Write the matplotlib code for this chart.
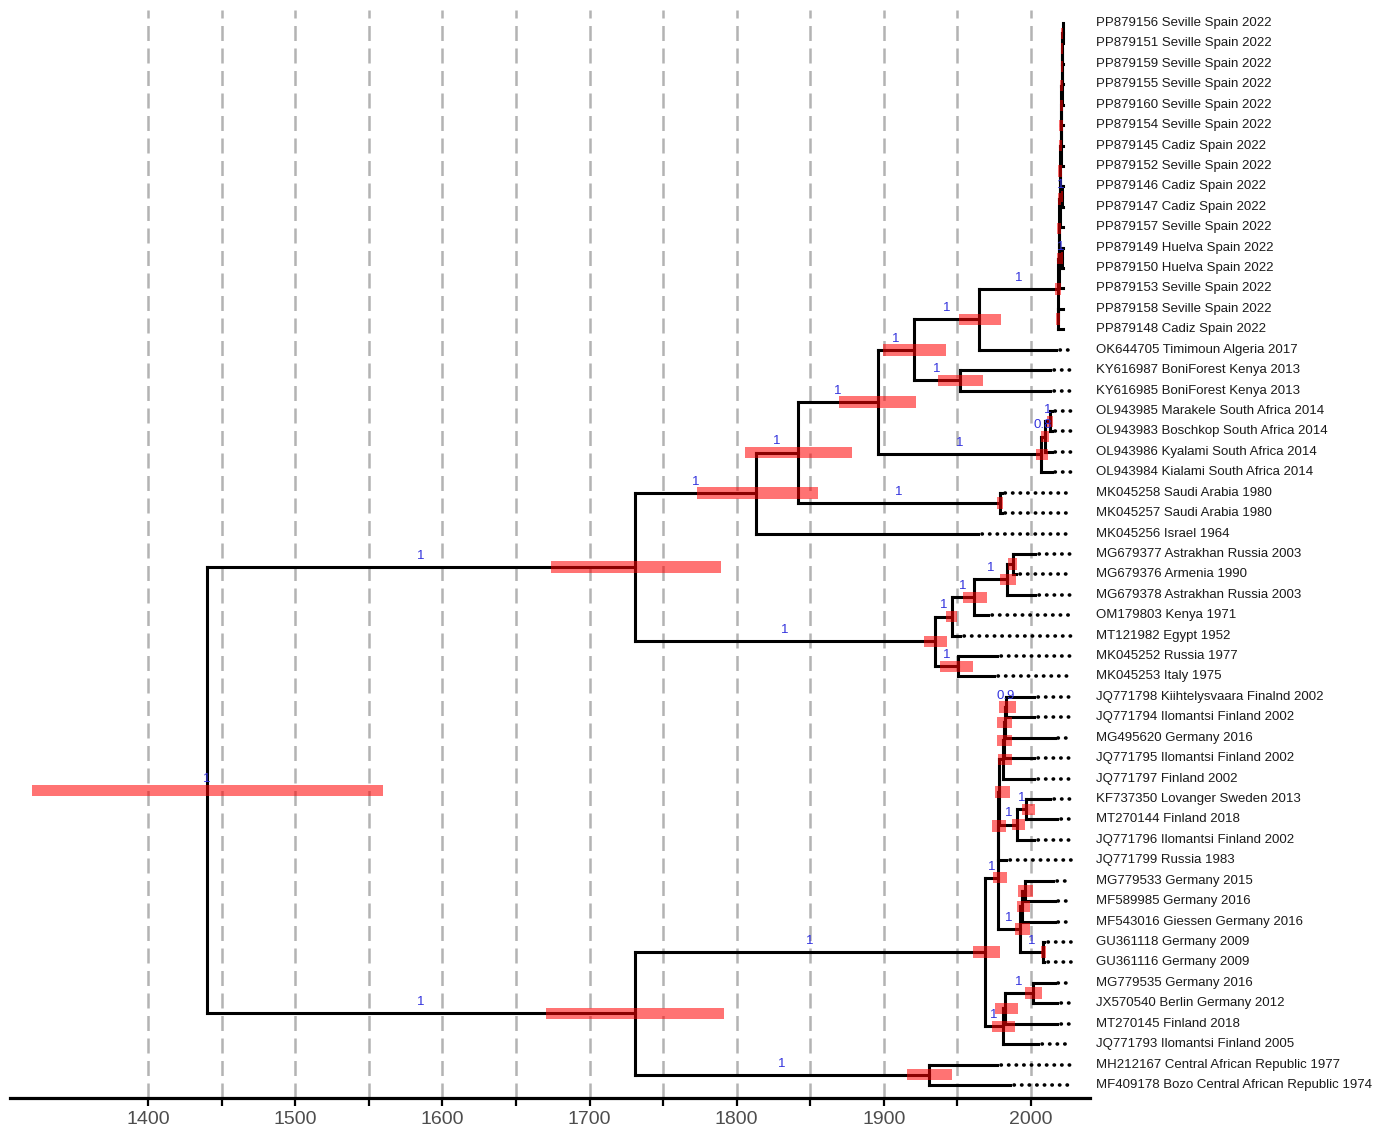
import matplotlib.pyplot as plt
from matplotlib.ticker import FixedLocator

plt.rcParams['font.family'] = ['Liberation Sans', 'DejaVu Sans']

# tips, top to bottom
tip_labels = [
    "PP879156 Seville Spain 2022", "PP879151 Seville Spain 2022",
    "PP879159 Seville Spain 2022", "PP879155 Seville Spain 2022",
    "PP879160 Seville Spain 2022", "PP879154 Seville Spain 2022",
    "PP879145 Cadiz Spain 2022", "PP879152 Seville Spain 2022",
    "PP879146 Cadiz Spain 2022", "PP879147 Cadiz Spain 2022",
    "PP879157 Seville Spain 2022", "PP879149 Huelva Spain 2022",
    "PP879150 Huelva Spain 2022", "PP879153 Seville Spain 2022",
    "PP879158 Seville Spain 2022", "PP879148 Cadiz Spain 2022",
    "OK644705 Timimoun Algeria 2017", "KY616987 BoniForest Kenya 2013",
    "KY616985 BoniForest Kenya 2013", "OL943985 Marakele South Africa 2014",
    "OL943983 Boschkop South Africa 2014", "OL943986 Kyalami South Africa 2014",
    "OL943984 Kialami South Africa 2014", "MK045258 Saudi Arabia 1980",
    "MK045257 Saudi Arabia 1980", "MK045256 Israel 1964",
    "MG679377 Astrakhan Russia 2003", "MG679376 Armenia 1990",
    "MG679378 Astrakhan Russia 2003", "OM179803 Kenya 1971",
    "MT121982 Egypt 1952", "MK045252 Russia 1977", "MK045253 Italy 1975",
    "JQ771798 Kiihtelysvaara Finalnd 2002", "JQ771794 Ilomantsi Finland 2002",
    "MG495620 Germany 2016", "JQ771795 Ilomantsi Finland 2002",
    "JQ771797 Finland 2002", "KF737350 Lovanger Sweden 2013",
    "MT270144 Finland 2018", "JQ771796 Ilomantsi Finland 2002",
    "JQ771799 Russia 1983", "MG779533 Germany 2015", "MF589985 Germany 2016",
    "MF543016 Giessen Germany 2016", "GU361118 Germany 2009",
    "GU361116 Germany 2009", "MG779535 Germany 2016",
    "JX570540 Berlin Germany 2012", "MT270145 Finland 2018",
    "JQ771793 Ilomantsi Finland 2005", "MH212167 Central African Republic 1977",
    "MF409178 Bozo Central African Republic 1974",
]
# where each tip branch ends on the time axis
tip_dates = [2022] * 16 + [
    2017, 2013, 2013, 2014, 2014, 2014, 2014, 1980, 1980, 1964,
    2003, 1990, 2003, 1971, 1952, 1977, 1975,
    2002, 2002, 2016, 2002, 2002, 2013, 2018, 2002, 1983,
    2015, 2016, 2016, 2009, 2009, 2016, 2018, 2018, 2005, 1977, 1986,
]

# internal nodes
node_names = [
    "root", "A", "A1", "N798", "N878", "N914", "N979", "KEN", "ESP",
    "C3", "L11", "L10", "C2", "L9", "L8", "C1", "L7", "L6", "L5", "L4",
    "L3", "L2", "L1", "SA", "SA_X", "SA_Y", "SAU", "A2", "A2a", "N974",
    "N1007", "N1013", "A2b", "B", "CAR", "B2", "F", "F1", "T5", "T4", "T3",
    "T2", "T1", "K", "K1", "E", "E1", "E1a", "GU", "G", "G2", "G1",
]
node_children = [
    ["A", "B"], ["A1", "A2"], ["N798", "MK045256"], ["N878", "SAU"],
    ["N914", "SA"], ["N979", "KEN"], ["ESP", "OK644705"],
    ["KY616987", "KY616985"], ["L11", "C3"],
    ["PP879158", "PP879148"], ["L10", "PP879153"], ["L9", "C2"],
    ["PP879149", "PP879150"], ["L8", "PP879157"], ["L7", "C1"],
    ["PP879146", "PP879147"], ["L6", "PP879152"], ["L5", "PP879145"],
    ["L4", "PP879154"], ["L3", "PP879160"], ["L2", "PP879155"],
    ["L1", "PP879159"], ["PP879156", "PP879151"],
    ["SA_X", "OL943984"], ["SA_Y", "OL943986"], ["OL943985", "OL943983"],
    ["MK045258", "MK045257"], ["A2a", "A2b"], ["N974", "MT121982"],
    ["N1007", "OM179803"], ["N1013", "MG679378"], ["MG679377", "MG679376"],
    ["MK045252", "MK045253"], ["B2", "CAR"], ["MH212167", "MF409178"],
    ["F", "G"], ["F1", "E"], ["T5", "JQ771799"], ["T4", "K"],
    ["T3", "JQ771797"], ["T2", "JQ771795"], ["T1", "MG495620"],
    ["JQ771798", "JQ771794"], ["K1", "JQ771796"], ["KF737350", "MT270144"],
    ["E1", "GU"], ["E1a", "MF543016"], ["MG779533", "MF589985"],
    ["GU361118", "GU361116"], ["G2", "JQ771793"], ["G1", "MT270145"],
    ["MG779535", "JX570540"],
]
node_ages = [
    1440.1, 1730.9, 1813.1, 1841.7, 1896.0, 1920.5, 1964.6, 1951.7, 2018.3,
    2018.4, 2018.9, 2019.2, 2021.3, 2019.5, 2019.8, 2021.0, 2020.1, 2020.4,
    2020.7, 2021.0, 2021.2, 2021.4, 2021.6, 2006.8, 2009.5, 2012.9, 1978.9,
    1934.8, 1946.3, 1961.3, 1983.7, 1987.8, 1950.4, 1730.9, 1930.7, 1968.7,
    1977.6, 1977.9, 1978.6, 1980.9, 1981.6, 1982.3, 1983.0, 1990.5, 1996.6,
    1992.5, 1993.9, 1995.9, 2008.1, 1981.0, 1982.3, 2001.3,
]
hpd_low = [
    1321.2, 1673.8, 1773.0, 1805.7, 1869.5, 1899.4, 1951.1, 1936.8, 2016.3,
    2017.2, 2017.7, 2018.0, 2020.4, 2018.3, 2018.6, 2020.1, 2018.9, 2019.2,
    2019.5, 2019.8, 2020.1, 2020.4, 2020.7, 2003.4, 2006.8, 2010.8, 1976.9,
    1927.3, 1942.2, 1953.8, 1978.9, 1984.4, 1938.2, 1670.4, 1915.7, 1960.6,
    1974.2, 1973.5, 1975.5, 1977.6, 1976.9, 1976.9, 1978.2, 1987.1, 1993.9,
    1989.1, 1990.5, 1991.2, 2006.8, 1973.5, 1975.5, 1995.9,
]
hpd_high = [
    1559.7, 1789.3, 1855.3, 1878.4, 1921.8, 1942.2, 1979.6, 1967.4, 2020.4,
    2019.6, 2020.1, 2020.4, 2022.0, 2020.7, 2021.0, 2021.8, 2021.3, 2021.6,
    2021.8, 2022.0, 2022.0, 2022.0, 2022.0, 2011.5, 2012.2, 2014.8, 1981.0,
    1942.9, 1949.7, 1970.1, 1989.8, 1990.5, 1960.6, 1791.4, 1946.3, 1978.9,
    1983.7, 1983.0, 1985.7, 1987.1, 1987.1, 1987.1, 1989.8, 1995.9, 2002.7,
    1999.3, 1999.3, 2001.3, 2010.2, 1989.1, 1991.2, 2007.5,
]
node_support = [
    1, 1, 1, 1, 1, 1, 1, 1, 1,
    None, None, None, 1, None, None, 1, None, None, None, None,
    None, None, None, 1, 0.8, 1, 1, 1, 1, 1,
    1, None, 1, 1, 1, 1, 1, None, None, None, None,
    None, 0.9, 1, 1, 1, None, None, 1, 1, None, 1,
]

x_ticks = [1400, 1500, 1600, 1700, 1800, 1900, 2000]
x_minor = [1450, 1550, 1650, 1750, 1850, 1950]

# ---- tree layout ----
tip_ids = [lab.split()[0] for lab in tip_labels]
age = dict(zip(tip_ids, tip_dates))
age.update(zip(node_names, node_ages))
kids = dict(zip(node_names, node_children))
parent = {c: n for n, cs in kids.items() for c in cs}
ypos = {t: i for i, t in enumerate(tip_ids)}


def get_y(n):
    if n not in ypos:
        ypos[n] = sum(get_y(c) for c in kids[n]) / len(kids[n])
    return ypos[n]


for n in node_names:
    get_y(n)

fig = plt.figure(figsize=(13.84, 11.31), dpi=100)
ax = fig.add_axes([10 / 1384, 33 / 1131, 1080 / 1384, 1088 / 1131])

lw = 2.2
for n in node_names:
    ys = [ypos[c] for c in kids[n]]
    ax.plot([age[n], age[n]], [min(ys), max(ys)], color='black', lw=lw,
            solid_capstyle='projecting', zorder=2)
    for c in kids[n]:
        ax.plot([age[n], age[c]], [ypos[c], ypos[c]], color='black', lw=lw,
                solid_capstyle='projecting', zorder=2)

# aligned dotted leaders and tip labels
for t, lab in zip(tip_ids, tip_labels):
    if age[t] < 2020:
        ax.plot([age[t] + 2.5, 2027.5], [ypos[t], ypos[t]], color='black',
                lw=2.6, linestyle=(0, (0.1, 2.0)), dash_capstyle='round',
                zorder=2)
    ax.text(2044.2, ypos[t], lab, va='center', ha='left', fontsize=9.5,
            color='#1a1a1a', clip_on=False)

# 95% HPD bars
ax.barh([ypos[n] for n in node_names],
        [h - l for l, h in zip(hpd_low, hpd_high)], left=hpd_low,
        height=0.56, color='red', alpha=0.55, linewidth=0, zorder=3)

# posterior support
for n, s in zip(node_names, node_support):
    if s is None:
        continue
    xp = age[parent[n]] if n in parent else age[n]
    ax.annotate(f'{s:g}', xy=((xp + age[n]) / 2, ypos[n]), xytext=(0, 8),
                textcoords='offset points', ha='center', va='center',
                fontsize=9.5, color='#3333dd', zorder=5)

ax.set_xlim(1306.2, 2040.1)
ax.set_ylim(52.64, -0.637)
ax.xaxis.set_major_locator(FixedLocator(x_ticks))
ax.xaxis.set_minor_locator(FixedLocator(x_minor))
ax.set_yticks([])
for s in ['left', 'right', 'top']:
    ax.spines[s].set_visible(False)
ax.spines['bottom'].set_linewidth(2.3)
ax.tick_params(axis='x', which='both', direction='out', length=6, width=1.6,
               labelsize=14, labelcolor='#4d4d4d', pad=3)
ax.grid(axis='x', which='both', color='#b3b3b3', linewidth=1.8,
        linestyle=(0, (6, 3)))
ax.set_axisbelow(True)

fig.savefig('out.png', dpi=100)
